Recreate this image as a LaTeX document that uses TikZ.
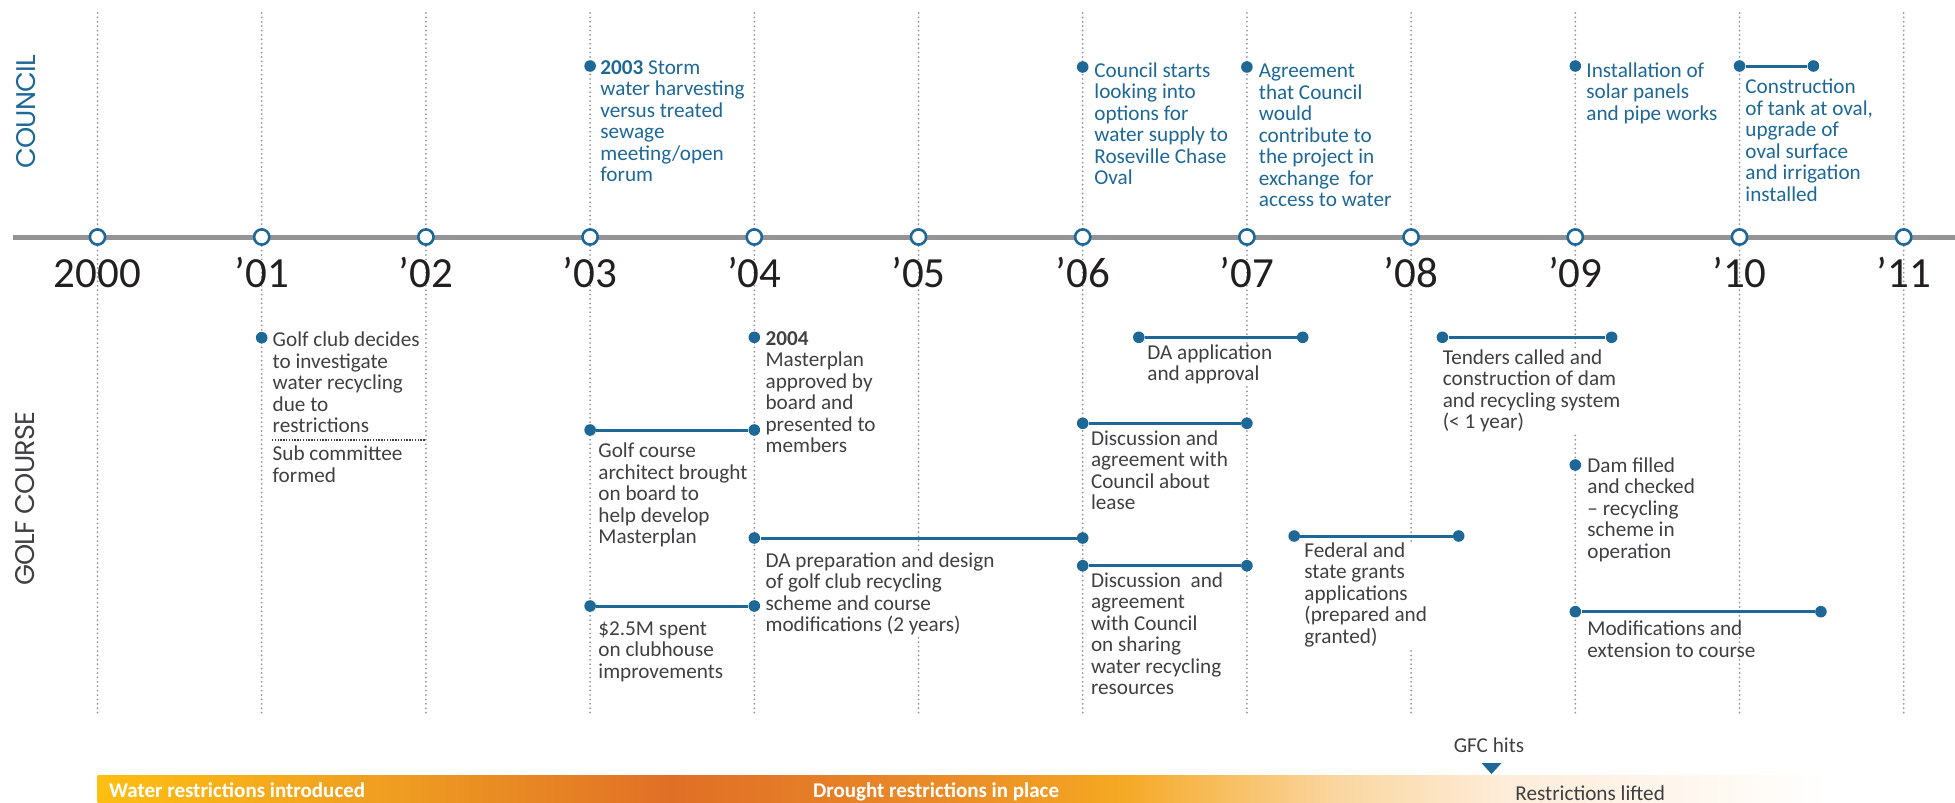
\documentclass[tikz,border=0pt]{standalone}
\usepackage{fontspec}
\setmainfont{Carlito}
\newfontfamily\sectfont[LetterSpace=-3]{Poppins}

\definecolor{tlblue}{RGB}{29,104,150}
\definecolor{tlgray}{RGB}{148,148,150}
\definecolor{gridgray}{RGB}{150,150,155}
\definecolor{txtgray}{RGB}{64,64,66}
\definecolor{yeargray}{RGB}{35,31,32}
\definecolor{bandA}{HTML}{FDBE12}
\definecolor{bandB}{HTML}{EE9C22}
\definecolor{bandC}{HTML}{E06F26}
\definecolor{bandD}{HTML}{EA8C28}
\definecolor{bandE}{HTML}{F4A822}
\definecolor{bandF}{HTML}{F9D6A0}
\definecolor{bandG}{HTML}{FDECD8}

\tikzset{
  gridline/.style={gridgray, line width=1pt, line cap=round, dash pattern=on 0pt off 2.2pt},
  sepline/.style={txtgray, line width=0.7pt, dash pattern=on 0.7pt off 0.7pt},
  tline/.style={tlgray, line width=2.5pt},
  yearring/.style={circle, draw=tlblue, fill=white, line width=1.3pt, minimum size=7.6pt, inner sep=0pt},
  yearlab/.style={anchor=base, text=yeargray, font=\fontsize{21.5}{25}\selectfont},
  evdot/.style={circle, fill=tlblue, minimum size=5.8pt, inner sep=0pt},
  evbar/.style={tlblue, line width=1.5pt},
  % multi-line texts are placed by the baseline of their last line
  evtext/.style={anchor=base west, align=left, inner sep=0.5pt, text=txtgray,
    font=\fontsize{10.6}{10.75}\selectfont},
  cevtext/.style={evtext, text=tlblue},
  knockout/.style={fill=white},
  sidelab/.style={rotate=90, font=\sectfont\fontsize{13.5}{16}\selectfont},
  bandtxt/.style={anchor=base west, text=white, font=\bfseries\fontsize{10.5}{12}\selectfont},
}

\begin{document}
\begin{tikzpicture}[x=0.5pt,y=-0.5pt]
  \useasboundingbox (0,0) rectangle (1955,803);

  % years, grid and timeline
  \foreach \k in {0,...,11}{
    \coordinate (top\k) at ({97.5+164.2*\k},13);
    \coordinate (bot\k) at ({97.5+164.2*\k},715);
    \draw[gridline] (top\k) -- (bot\k);
  }
  \coordinate (tlstart) at (13,237);
  \coordinate (tlend) at (1955,237);
  \draw[tline] (tlstart) -- (tlend);
  \foreach \k/\yr in {0/2000,1/’01,2/’02,3/’03,4/’04,5/’05,6/’06,7/’07,8/’08,9/’09,10/’10,11/’11}{
    \node[yearring] (y\k) at ({97.5+164.2*\k},237) {};
    \node[yearlab] (lab\k) at ({97.5+164.2*\k},287) {\yr};
  }

  % side labels
  \node[sidelab, text=tlblue] (council) at (26,112) {COUNCIL};
  \node[sidelab, text=txtgray] (golf) at (25,499) {GOLF COURSE};

  % council
  \node[evdot] (c1) at (590.1,66) {};
  \node[cevtext] (c1t) at (599,181.5) {\textbf{2003} Storm\\water harvesting\\versus treated\\sewage\\meeting/open\\forum};
  \node[evdot] (c2) at (1082.7,67) {};
  \node[cevtext] (c2t) at (1093,184.5) {Council starts\\looking into\\options for\\water supply to\\Roseville Chase\\Oval};
  \node[evdot] (c3) at (1246.9,67) {};
  \node[cevtext] (c3t) at (1257.5,206.5) {Agreement\\that Council\\would\\contribute to\\the project in\\exchange\ \ for\\access to water};
  \node[evdot] (c4) at (1575.3,66) {};
  \node[cevtext] (c4t) at (1585,120) {Installation of\\solar panels\\and pipe works};
  \node[evdot] (c5a) at (1739.5,66) {};
  \node[evdot] (c5b) at (1813.4,66) {};
  \draw[evbar] (c5a) -- (c5b);
  \node[cevtext] (c5t) at (1744,201) {Construction\\of tank at oval,\\upgrade of\\oval surface\\and irrigation\\installed};

  % golf course
  \node[evdot] (g1) at (261.7,337.7) {};
  \node[evtext] (g1t) at (271.3,432.5) {Golf club decides\\to investigate\\water recycling\\due to\\restrictions};
  \coordinate (sepL) at (272,440);
  \coordinate (sepR) at (425.9,440);
  \draw[sepline] (sepL) -- (sepR);
  \node[evtext] (g1s) at (271.3,482) {Sub committee\\formed};

  \node[evdot] (g2a) at (590.1,430) {};
  \node[evdot] (g2b) at (754.3,430) {};
  \draw[evbar] (g2a) -- (g2b);
  \node[evtext] (g2t) at (597,543.7) {Golf course\\architect brought\\on board to\\help develop\\Masterplan};

  \node[evdot] (g3a) at (590.1,606) {};
  \node[evdot] (g3b) at (754.3,606) {};
  \draw[evbar] (g3a) -- (g3b);
  \node[evtext] (g3t) at (597,678) {\$2.5M spent\\on clubhouse\\improvements};

  \node[evdot] (g4) at (754.3,337.3) {};
  \node[evtext] (g4t) at (764.2,452.8) {\textbf{2004}\\Masterplan\\approved by\\board and\\presented to\\members};

  \node[evdot] (g5a) at (754.3,538) {};
  \node[evdot] (g5b) at (1082.7,538) {};
  \draw[evbar] (g5a) -- (g5b);
  \node[evtext, knockout] (g5t) at (764.2,631.5) {DA preparation and design\\of golf club recycling\\scheme and course\\modifications (2 years)};

  \node[evdot] (g6a) at (1138.8,337.3) {};
  \node[evdot] (g6b) at (1302.7,337.3) {};
  \draw[evbar] (g6a) -- (g6b);
  \node[evtext, knockout] (g6t) at (1146,380.8) {DA application\\and approval};

  \node[evdot] (g7a) at (1082.7,423.3) {};
  \node[evdot] (g7b) at (1246.9,423.3) {};
  \draw[evbar] (g7a) -- (g7b);
  \node[evtext] (g7t) at (1089.6,509.5) {Discussion and\\agreement with\\Council about\\lease};

  \node[evdot] (g8a) at (1082.7,565.7) {};
  \node[evdot] (g8b) at (1246.9,565.7) {};
  \draw[evbar] (g8a) -- (g8b);
  \node[evtext] (g8t) at (1089.6,694.7) {Discussion\ \ and\\agreement\\with Council\\on sharing\\water recycling\\resources};

  \node[evdot] (g9a) at (1294.2,536) {};
  \node[evdot] (g9b) at (1458.7,536) {};
  \draw[evbar] (g9a) -- (g9b);
  \node[evtext, knockout] (g9t) at (1303,643.3) {Federal and\\state grants\\applications\\(prepared and\\granted)};

  \node[evdot] (g10a) at (1442.4,337.3) {};
  \node[evdot] (g10b) at (1611.6,337.3) {};
  \draw[evbar] (g10a) -- (g10b);
  \node[evtext, knockout] (g10t) at (1441.4,428.8) {Tenders called and\\construction of dam\\and recycling system\\(< 1 year)};

  \node[evdot] (g11) at (1575.3,465) {};
  \node[evtext] (g11t) at (1586,558.3) {Dam filled\\and checked\\-- recycling\\scheme in\\operation};

  \node[evdot] (g12a) at (1575.3,611.7) {};
  \node[evdot] (g12b) at (1820.9,611.7) {};
  \draw[evbar] (g12a) -- (g12b);
  \node[evtext] (g12t) at (1586,657) {Modifications and\\extension to course};

  % restrictions band
  \shade[left color=bandA, right color=bandB] (97.5,775) rectangle (400.5,803);
  \shade[left color=bandB, right color=bandC] (400,775) rectangle (671.5,803);
  \shade[left color=bandC, right color=bandD] (671,775) rectangle (950.5,803);
  \shade[left color=bandD, right color=bandE] (950,775) rectangle (1117.5,803);
  \shade[left color=bandE, right color=bandF] (1117,775) rectangle (1335.5,803);
  \shade[left color=bandF, right color=bandG] (1335,775) rectangle (1500.5,803);
  \shade[left color=bandG, right color=white] (1500,775) rectangle (1830,803);
  \node[bandtxt] (wri) at (102,797) {Water restrictions introduced};
  \node[bandtxt] (drp) at (806,797) {Drought restrictions in place};
  \node[evtext] (rlf) at (1514,800) {Restrictions lifted};
  \node[evtext, anchor=base] (gfc) at (1489,752) {GFC hits};
  \fill[tlblue] (1481.5,763) -- (1501.5,763) -- (1491.5,774) -- cycle;
\end{tikzpicture}
\end{document}
